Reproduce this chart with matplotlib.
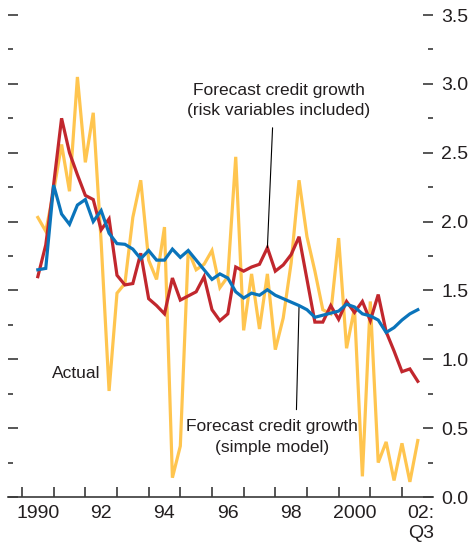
import matplotlib
matplotlib.use("Agg")
import matplotlib.pyplot as plt
from matplotlib.ticker import MultipleLocator, FixedLocator, NullFormatter
import numpy as np

plt.rcParams['font.family'] = ['Liberation Sans', 'DejaVu Sans']

# quarterly, 1990:Q3 - 2002:Q3
quarters = np.arange(1990.5, 2002.51, 0.25)

actual = [2.03, 1.93, 2.22, 2.56, 2.22, 3.05, 2.43, 2.79, 1.85, 0.77,
          1.48, 1.55, 2.03, 2.30, 1.72, 1.58, 1.96, 0.14, 0.37, 1.79,
          1.65, 1.69, 1.79, 1.52, 1.60, 2.47, 1.21, 1.62, 1.22, 1.62,
          1.07, 1.30, 1.70, 2.30, 1.89, 1.64, 1.36, 1.33, 1.88, 1.08,
          1.37, 0.15, 1.42, 0.25, 0.40, 0.12, 0.39, 0.11, 0.41]

risk = [1.60, 1.83, 2.27, 2.75, 2.50, 2.34, 2.19, 2.16, 1.94, 2.02,
        1.61, 1.54, 1.55, 1.77, 1.44, 1.39, 1.33, 1.59, 1.43, 1.46,
        1.49, 1.60, 1.36, 1.28, 1.33, 1.67, 1.64, 1.67, 1.69, 1.81,
        1.64, 1.685, 1.76, 1.89, 1.58, 1.27, 1.27, 1.39, 1.29, 1.42,
        1.34, 1.42, 1.28, 1.47, 1.20, 1.06, 0.91, 0.93, 0.84]

simple = [1.65, 1.66, 2.265, 2.055, 1.98, 2.12, 2.16, 2.00, 2.08, 1.915,
          1.84, 1.835, 1.80, 1.73, 1.79, 1.72, 1.72, 1.80, 1.74, 1.79,
          1.72, 1.65, 1.58, 1.62, 1.59, 1.49, 1.445, 1.48, 1.465, 1.505,
          1.465, 1.44, 1.415, 1.39, 1.36, 1.305, 1.32, 1.335, 1.35, 1.40,
          1.38, 1.33, 1.315, 1.285, 1.195, 1.23, 1.285, 1.33, 1.36]

year_ticks = list(range(1990, 2003))
label_pos = [1990.5, 1992.5, 1994.5, 1996.5, 1998.5, 2000.5, 2002.6]
label_txt = ['1990', '92', '94', '96', '98', '2000', '02:\nQ3']

txt_col = '#231f20'
ax_col = '#3a3a3a'

fig = plt.figure(figsize=(4.68, 5.44), dpi=100)
ax = fig.add_axes([8/468, 47/544, 425/468, 482/544])

ax.plot(quarters, actual, color='#ffc54f', lw=2.3, solid_joinstyle='miter', zorder=2)
ax.plot(quarters, risk, color='#c1272d', lw=2.3, solid_joinstyle='miter', zorder=3)
ax.plot(quarters, simple, color='#0a74bb', lw=2.3, solid_joinstyle='miter', zorder=4)

ax.set_xlim(1989.558, 2002.98)
ax.set_ylim(0, 3.5)

for s in ['top', 'left', 'right']:
    ax.spines[s].set_visible(False)
ax.spines['bottom'].set_color(ax_col)
ax.spines['bottom'].set_linewidth(1.2)

# y axis: ticks both sides, labels on the right
ax.yaxis.set_major_locator(MultipleLocator(0.5))
ax.yaxis.set_minor_locator(MultipleLocator(0.25))
ax.yaxis.set_major_formatter(plt.FuncFormatter(lambda v, p: '%.1f' % v))
ax.tick_params(axis='y', which='both', left=True, right=True, labelleft=False,
               labelright=True, direction='in', color=ax_col, width=1.2)
ax.tick_params(axis='y', which='major', length=7.2, pad=6, labelsize=14,
               labelcolor=txt_col)
ax.tick_params(axis='y', which='minor', length=3.6)

# x axis: year ticks, labels at mid-year
ax.xaxis.set_major_locator(FixedLocator(year_ticks))
ax.xaxis.set_major_formatter(NullFormatter())
ax.xaxis.set_minor_locator(FixedLocator(label_pos))
ax.set_xticklabels(label_txt, minor=True)
ax.tick_params(axis='x', which='major', direction='in', length=7.2, width=1.2,
               color=ax_col)
ax.tick_params(axis='x', which='minor', length=0, pad=6, labelsize=14,
               labelcolor=txt_col)

# annotations
ax.annotate('Forecast credit growth\n(risk variables included)',
            xy=(quarters[29], risk[29]), xytext=(1998.1, 2.88),
            ha='center', va='center', fontsize=12.5, color=txt_col,
            linespacing=1.45,
            arrowprops=dict(arrowstyle='-', color='black', lw=0.8,
                            relpos=(0.47, 0.0), shrinkA=5, shrinkB=0))
ax.annotate('Forecast credit growth\n(simple model)',
            xy=(quarters[33], simple[33]), xytext=(1997.9, 0.435),
            ha='center', va='center', fontsize=12.5, color=txt_col,
            linespacing=1.45,
            arrowprops=dict(arrowstyle='-', color='black', lw=0.8,
                            relpos=(0.64, 1.0), shrinkA=5, shrinkB=0))
ax.text(1991.7, 0.90, 'Actual', ha='center', va='center', fontsize=12.5,
        color=txt_col)

fig.savefig('out.png', dpi=100)
